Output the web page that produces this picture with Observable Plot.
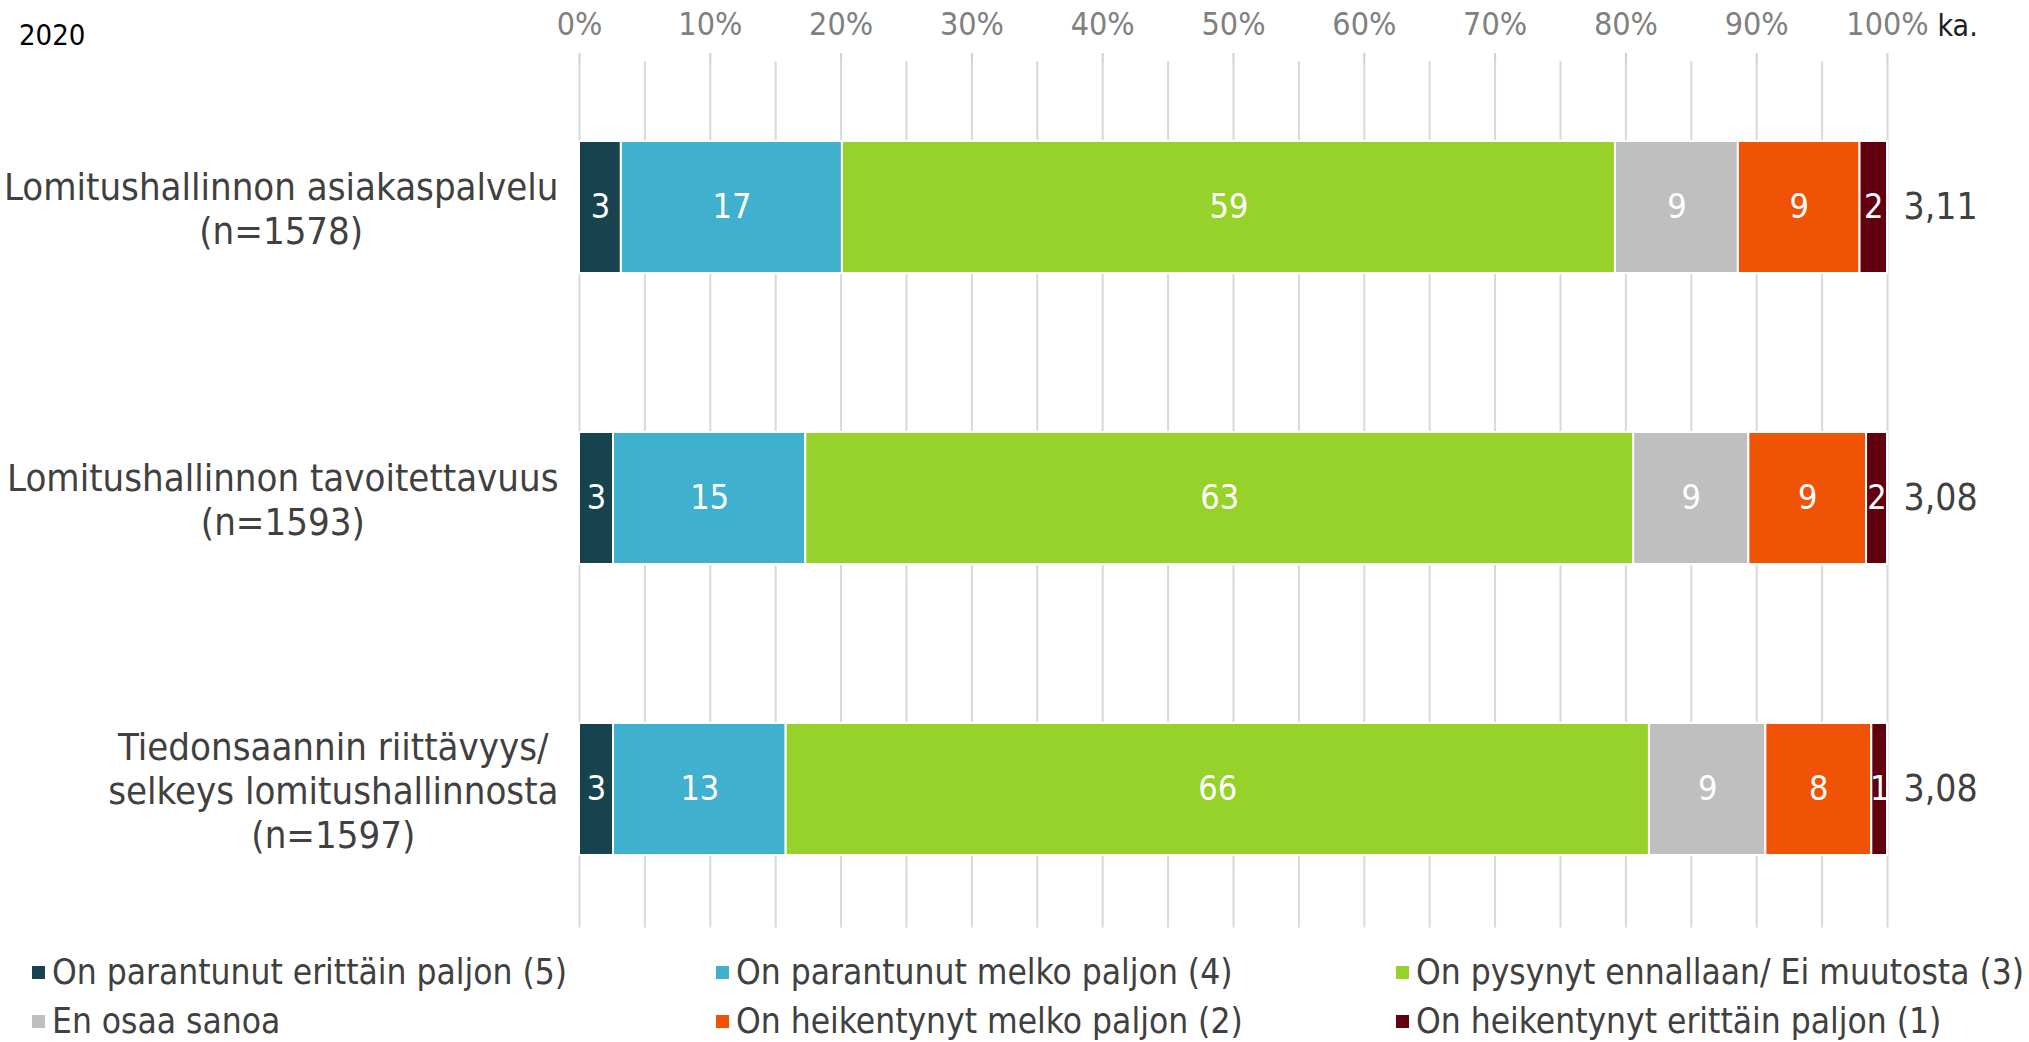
<!DOCTYPE html>
<html>
<head>
<meta charset="utf-8">
<script src="https://cdn.jsdelivr.net/npm/d3@7"></script>
<script src="https://cdn.jsdelivr.net/npm/@observablehq/plot@0.6"></script>
<style>
  html, body { margin: 0; padding: 0; background: #fff; }
  body { width: 2029px; height: 1042px; position: relative; overflow: hidden;
         font-family: "DejaVu Sans Condensed", "DejaVu Sans", sans-serif; font-stretch: condensed; }
  #year { position: absolute; left: 19px; top: 18px; font-size: 29px; color: #000; }
  #legend { display: grid; grid-template-columns: 684px 680px auto; padding-left: 32px; padding-top: 8px;
            font-size: 35px; color: #404040; line-height: 49px; }
  .item { display: flex; align-items: center; white-space: nowrap; }
  .sw { width: 13px; height: 13px; margin-right: 7px; flex: none; }
  svg text { font-family: "DejaVu Sans Condensed", "DejaVu Sans", sans-serif; font-stretch: condensed; }
</style>
</head>
<body>
<div id="year">2020</div>
<div id="chart"></div>
<div id="legend"></div>
<script>
// ---- data ----
const categories = [
  "Lomitushallinnon asiakaspalvelu\n(n=1578)",
  "Lomitushallinnon tavoitettavuus\n(n=1593)",
  "Tiedonsaannin riittävyys/\nselkeys lomitushallinnosta\n(n=1597)"
];
const responses = [
  "On parantunut erittäin paljon (5)",
  "On parantunut melko paljon (4)",
  "On pysynyt ennallaan/ Ei muutosta (3)",
  "En osaa sanoa",
  "On heikentynyt melko paljon (2)",
  "On heikentynyt erittäin paljon (1)"
];
const colors = ["#17434f", "#3fb0cd", "#97d22a", "#bfbfbf", "#f15306", "#62000f"];
const parantunutErittain = [3.2, 2.6, 2.6];
const parantunutMelko   = [16.9, 14.7, 13.2];
const pysynyt           = [59.1, 63.3, 66.0];
const enOsaa            = [9.4, 8.8, 8.9];
const heikentynytMelko  = [9.3, 9.0, 8.1];
const heikentynytErittain = [2.1, 1.6, 1.2];
const means = ["3,11", "3,08", "3,08"];
const xTicks = [0, 10, 20, 30, 40, 50, 60, 70, 80, 90, 100];
const gridTicks = [0, 5, 10, 15, 20, 25, 30, 35, 40, 45, 50, 55, 60, 65, 70, 75, 80, 85, 90, 95, 100];
const meanHeader = "ka.";

// ---- table ----
const series = [parantunutErittain, parantunutMelko, pysynyt, enOsaa, heikentynytMelko, heikentynytErittain];
const rows = [];
categories.forEach((c, i) => series.forEach((s, j) => rows.push({category: c, response: responses[j], value: s[i]})));
const meanRows = categories.map((c, i) => ({category: c, mean: means[i]}));

// measure label widths for centered multi-line blocks placed right of the frame edge
const FONT_CAT = 38;
const ctx = document.createElement("canvas").getContext("2d");
ctx.font = `${FONT_CAT}px "DejaVu Sans Condensed", "DejaVu Sans", sans-serif`;
const blockW = c => d3.max(c.split("\n"), l => ctx.measureText(l).width);

const catMarks = categories.map(c => Plot.text([c], {
  y: d => d, text: d => d, frameAnchor: "left", textAnchor: "middle",
  dx: -(21 + blockW(c) / 2), fontSize: FONT_CAT, lineHeight: 1.16, fill: "#404040"
}));

const chart = Plot.plot({
  width: 2029,
  height: 940,
  marginLeft: 579,
  marginRight: 142,
  marginTop: 61,
  marginBottom: 4.5,
  x: {domain: [0, 100], label: null},
  y: {domain: categories, paddingInner: 0.547, paddingOuter: 0.274, axis: null, label: null},
  color: {domain: responses, range: colors},
  marks: [
    Plot.gridX(gridTicks, {stroke: "#d9d9d9", strokeOpacity: 1, strokeWidth: 2, insetBottom: 8}),
    Plot.axisX(xTicks, {anchor: "top", tickSize: 9, tickFormat: () => "", stroke: "#d0d0d0", strokeWidth: 2, label: null}),
    Plot.axisX(xTicks, {anchor: "top", tickSize: 0, tickPadding: 27, tickFormat: d => d + "%", fontSize: 32, fill: "#808080", label: null}),
    Plot.ruleY([0], {y: null, frameAnchor: "top", stroke: "#d0d0d0", strokeWidth: 3}),
    Plot.barX(rows, Plot.stackX({x: "value", y: "category", fill: "response", stroke: "#fff", strokeWidth: 2})),
    Plot.text(rows, Plot.stackX({x: "value", y: "category", z: "response", text: d => Math.round(d.value), fill: "#fff", fontSize: 34})),
    Plot.text(meanRows, {y: "category", text: "mean", frameAnchor: "right", textAnchor: "start", dx: 16, fontSize: 37, fill: "#404040"}),
    Plot.text([meanHeader], {text: d => d, frameAnchor: "top-right", textAnchor: "start", dx: 50, dy: -47, fontSize: 30, fill: "#202020"}),
    ...catMarks
  ]
});
document.getElementById("chart").appendChild(chart);

// ---- legend ----
const leg = document.getElementById("legend");
const order = [0, 1, 2, 3, 4, 5];
order.forEach(i => {
  const it = document.createElement("div");
  it.className = "item";
  it.innerHTML = `<span class="sw" style="background:${colors[i]}"></span><span>${responses[i]}</span>`;
  leg.appendChild(it);
});
</script>
</body>
</html>
